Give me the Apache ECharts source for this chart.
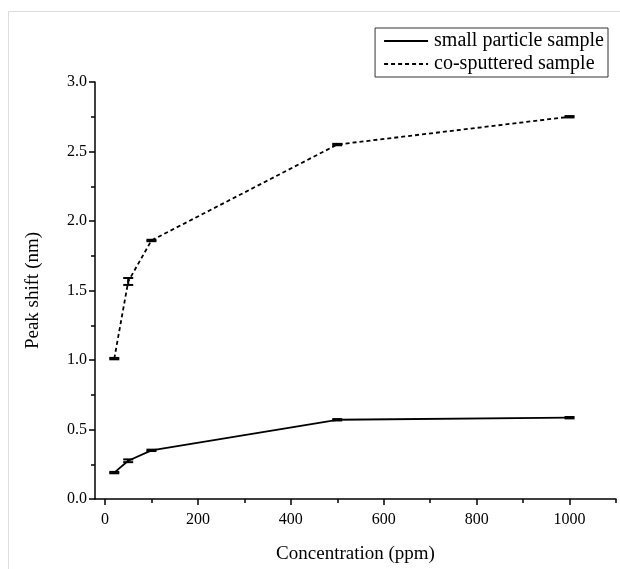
<!DOCTYPE html>
<html><head><meta charset="utf-8">
<script src="https://cdn.jsdelivr.net/npm/echarts@6/dist/echarts.min.js"></script>
<style>html,body{margin:0;padding:0;background:#fff}#c{width:620px;height:569px}</style>
</head><body><div id="c"></div>
<script>
const concentrations = [20, 50, 100, 500, 1000];
const smallParticle = [0.19, 0.275, 0.35, 0.57, 0.585];
const smallErr = [0.005, 0.01, 0.005, 0.005, 0.005];
const coSputtered = [1.01, 1.565, 1.86, 2.55, 2.75];
const coErr = [0.005, 0.025, 0.005, 0.005, 0.005];
const xMajor = [0, 200, 400, 600, 800, 1000];
const xMinor = [100, 300, 500, 700, 900, 1100];
const yMajor = [0, 0.5, 1.0, 1.5, 2.0, 2.5, 3.0];
const yMinor = [0.25, 0.75, 1.25, 1.75, 2.25, 2.75];
const seriesNames = ['small particle sample', 'co-sputtered sample'];

const FONT = '"Liberation Serif", "Times New Roman", serif';
const chart = echarts.init(document.getElementById('c'));

function pairs(ys, errs) { return concentrations.map((x, i) => [x, ys[i], errs[i]]); }

function errRender(params, api) {
  const x = api.value(0), y = api.value(1), e = api.value(2);
  const lo = api.coord([x, y - e]), hi = api.coord([x, y + e]);
  const hw = 5;
  const st = { stroke: '#000', lineWidth: 2 };
  return { type: 'group', children: [
    { type: 'line', shape: { x1: lo[0], y1: lo[1], x2: hi[0], y2: hi[1] }, style: st },
    { type: 'line', shape: { x1: lo[0] - hw, y1: lo[1], x2: lo[0] + hw, y2: lo[1] }, style: st },
    { type: 'line', shape: { x1: hi[0] - hw, y1: hi[1], x2: hi[0] + hw, y2: hi[1] }, style: st }
  ]};
}

chart.setOption({
  animation: false,
  backgroundColor: '#fff',
  graphic: [
    { type: 'polyline', shape: { points: [[8.5, 569], [8.5, 11.5], [620, 11.5]] }, style: { stroke: '#dcdcdc', lineWidth: 1, fill: null }, silent: true }
  ],
  legend: {
    data: seriesNames,
    orient: 'vertical',
    right: 12, top: 28,
    padding: [3, 4, 3, 8],
    itemGap: 3,
    itemWidth: 44, itemHeight: 19,
    borderColor: '#333', borderWidth: 1,
    itemStyle: { opacity: 0 },
    textStyle: { fontFamily: FONT, fontSize: 20, color: '#000', padding: [0, 0, 0, 1] }
  },
  grid: { left: 95, right: 4, top: 82, bottom: 64, containLabel: false },
  xAxis: [
    {
      type: 'value', min: -21.5, max: 1100,
      axisLine: { show: true, onZero: false, lineStyle: { color: '#000', width: 1.5 } },
      splitLine: { show: false },
      name: 'Concentration (ppm)', nameLocation: 'middle', nameGap: 46,
      nameTextStyle: { fontFamily: FONT, fontSize: 19, color: '#000' },
      axisTick: { show: true, inside: false, length: 6, customValues: xMajor, lineStyle: { color: '#000', width: 1.5 } },
      axisLabel: { customValues: xMajor, fontFamily: FONT, fontSize: 16, color: '#000', margin: 13, formatter: v => String(v) }
    },
    {
      type: 'value', min: -21.5, max: 1100, position: 'bottom',
      axisLine: { show: false, onZero: false }, splitLine: { show: false },
      axisTick: { show: true, length: 4, customValues: xMinor, lineStyle: { color: '#000', width: 1.5 } },
      axisLabel: { show: false, customValues: xMinor }
    }
  ],
  yAxis: [
    {
      type: 'value', min: 0, max: 3.0,
      axisLine: { show: true, onZero: false, lineStyle: { color: '#000', width: 1.5 } },
      splitLine: { show: false },
      name: 'Peak shift (nm)', nameLocation: 'middle', nameGap: 52,
      nameTextStyle: { fontFamily: FONT, fontSize: 19, color: '#000' },
      axisTick: { show: true, length: 6, customValues: yMajor, lineStyle: { color: '#000', width: 1.5 } },
      axisLabel: { customValues: yMajor, fontFamily: FONT, fontSize: 16, color: '#000', margin: 8, formatter: v => v.toFixed(1) }
    },
    {
      type: 'value', min: 0, max: 3.0, position: 'left',
      axisLine: { show: false, onZero: false }, splitLine: { show: false },
      axisTick: { show: true, length: 4, customValues: yMinor, lineStyle: { color: '#000', width: 1.5 } },
      axisLabel: { show: false, customValues: yMinor }
    }
  ],
  series: [
    { name: seriesNames[0], type: 'line', symbol: 'none', data: pairs(smallParticle, smallErr).map(d => [d[0], d[1]]),
      lineStyle: { color: '#000', width: 1.8, type: 'solid' }, itemStyle: { color: '#000' }, z: 3 },
    { name: seriesNames[1], type: 'line', symbol: 'none', data: pairs(coSputtered, coErr).map(d => [d[0], d[1]]),
      lineStyle: { color: '#000', width: 1.8, type: [4, 3] }, itemStyle: { color: '#000' }, z: 3 },
    { type: 'custom', renderItem: errRender, data: pairs(smallParticle, smallErr), z: 4, silent: true },
    { type: 'custom', renderItem: errRender, data: pairs(coSputtered, coErr), z: 4, silent: true }
  ]
});
</script></body></html>
